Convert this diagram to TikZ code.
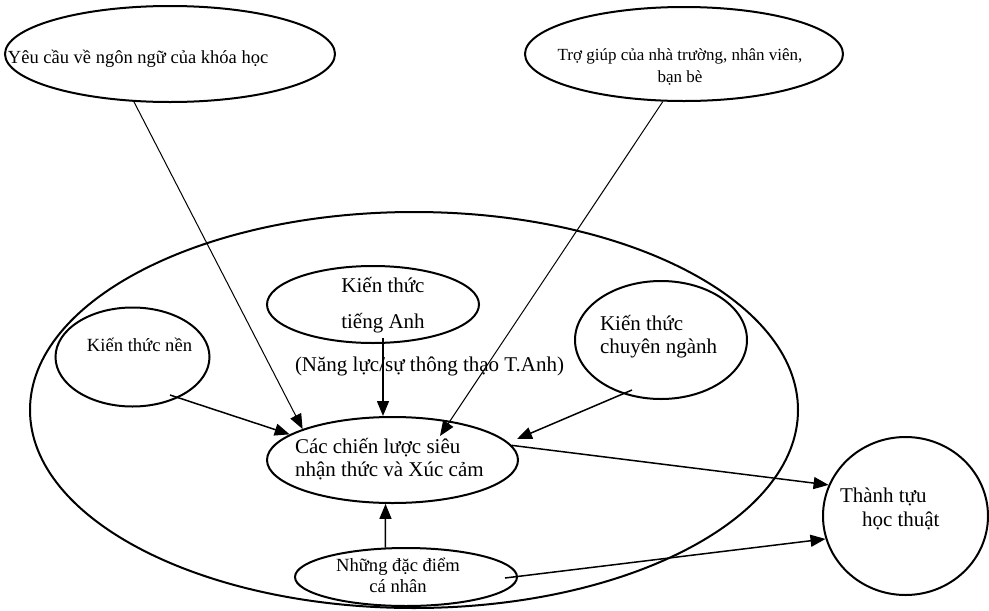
\documentclass[tikz,border=0pt]{standalone}
\usepackage{fontspec}
\setmainfont{Liberation Serif}
\usetikzlibrary{shapes.geometric,arrows.meta}
\tikzset{
  oval/.style={ellipse, draw, line width=2pt, inner sep=0pt},
  lbl/.style={inner sep=0pt, outer sep=0pt},
  thinarrow/.style={line width=1pt, -{Triangle[length=15pt,width=12pt]}},
  arrow/.style={line width=1.5pt, -{Triangle[length=15pt,width=12pt]}},
}
\newcommand{\fA}{\fontsize{21}{23}\selectfont}
\newcommand{\fB}{\fontsize{18.6}{21}\selectfont}
\begin{document}
\begin{tikzpicture}[x=1pt,y=-1pt]
\useasboundingbox (0,0) rectangle (989,611);
% ovals
\node[oval, minimum width=330pt, minimum height=96pt] (tl) at (170,54) {};
\node[oval, minimum width=318pt, minimum height=94pt] (tr) at (684,54) {};
\node[oval, minimum width=768pt, minimum height=396pt] (big) at (414,410) {};
\node[oval, minimum width=154pt, minimum height=99pt] (kn) at (132.5,357) {};
\node[oval, minimum width=212pt, minimum height=77pt] (ka) at (373,304.5) {};
\node[oval, minimum width=172pt, minimum height=118pt] (kcn) at (661,340) {};
\node[oval, minimum width=251pt, minimum height=86pt] (c) at (392.5,460) {};
\node[oval, minimum width=222pt, minimum height=58pt] (nd) at (406,577) {};
\node[oval, minimum width=165pt, minimum height=158pt] (tt) at (905.5,516) {};
% texts
\node[lbl, anchor=base west] (tlText) at (8,63) {\fontsize{18.5}{21}\selectfont Yêu cầu về ngôn ngữ của khóa học};
\node[lbl, anchor=base] (trText) at (680,60) {\fontsize{17}{22}\selectfont\begin{tabular}[t]{@{}c@{}}Trợ giúp của nhà trường, nhân viên,\\ bạn bè\end{tabular}};
\node[lbl, anchor=base] (knText) at (139.5,351) {\fB Kiến thức nền};
\node[lbl, anchor=base] (kaText) at (383,292) {\fontsize{21}{36}\selectfont\begin{tabular}[t]{@{}c@{}}Kiến thức\\ tiếng Anh\end{tabular}};
\node[lbl, anchor=base west] (nlText) at (295,371) {\fA (Năng lực/sự thông thạo T.Anh)};
\node[lbl, anchor=base west] (kcnText) at (600,330) {\fontsize{21}{23.5}\selectfont\begin{tabular}[t]{@{}l@{}}Kiến thức\\ chuyên ngành\end{tabular}};
\node[lbl, anchor=base west] (cText) at (295,453) {\fA\begin{tabular}[t]{@{}l@{}}Các chiến lược siêu\\ nhận thức và Xúc cảm\end{tabular}};
\node[lbl, anchor=base] (ndText) at (398,571) {\fB\begin{tabular}[t]{@{}c@{}}Những đặc điểm\\ cá nhân\end{tabular}};
\node[lbl, anchor=base west] (ttText) at (840,502) {\fontsize{21}{24}\selectfont\begin{tabular}[t]{@{}l@{}}Thành tựu\\ \hspace*{22pt}học thuật\end{tabular}};
% free ends
\coordinate (trEnd) at (440,436);
\coordinate (kaStart) at (383,338);
\coordinate (knStart) at (170,395);
\coordinate (kcnStart) at (632,390);
\coordinate (kcnEnd) at (517,439);
\coordinate (ndStart) at (505,578);
% connectors
\draw[thinarrow] (tl.-127.6) -- (c.161);
\draw[thinarrow] (tr.-114.5) -- (trEnd);
\draw[arrow] (kaStart) -- (kaStart |- c.north);
\draw[arrow] (knStart) -- (c.166);
\draw[arrow] (kcnStart) -- (kcnEnd);
\draw[arrow] (c.7) -- (tt.158);
\draw[arrow] (nd.125) -- (c.261.4);
\draw[arrow] (ndStart) -- (tt.196);
\end{tikzpicture}
\end{document}
